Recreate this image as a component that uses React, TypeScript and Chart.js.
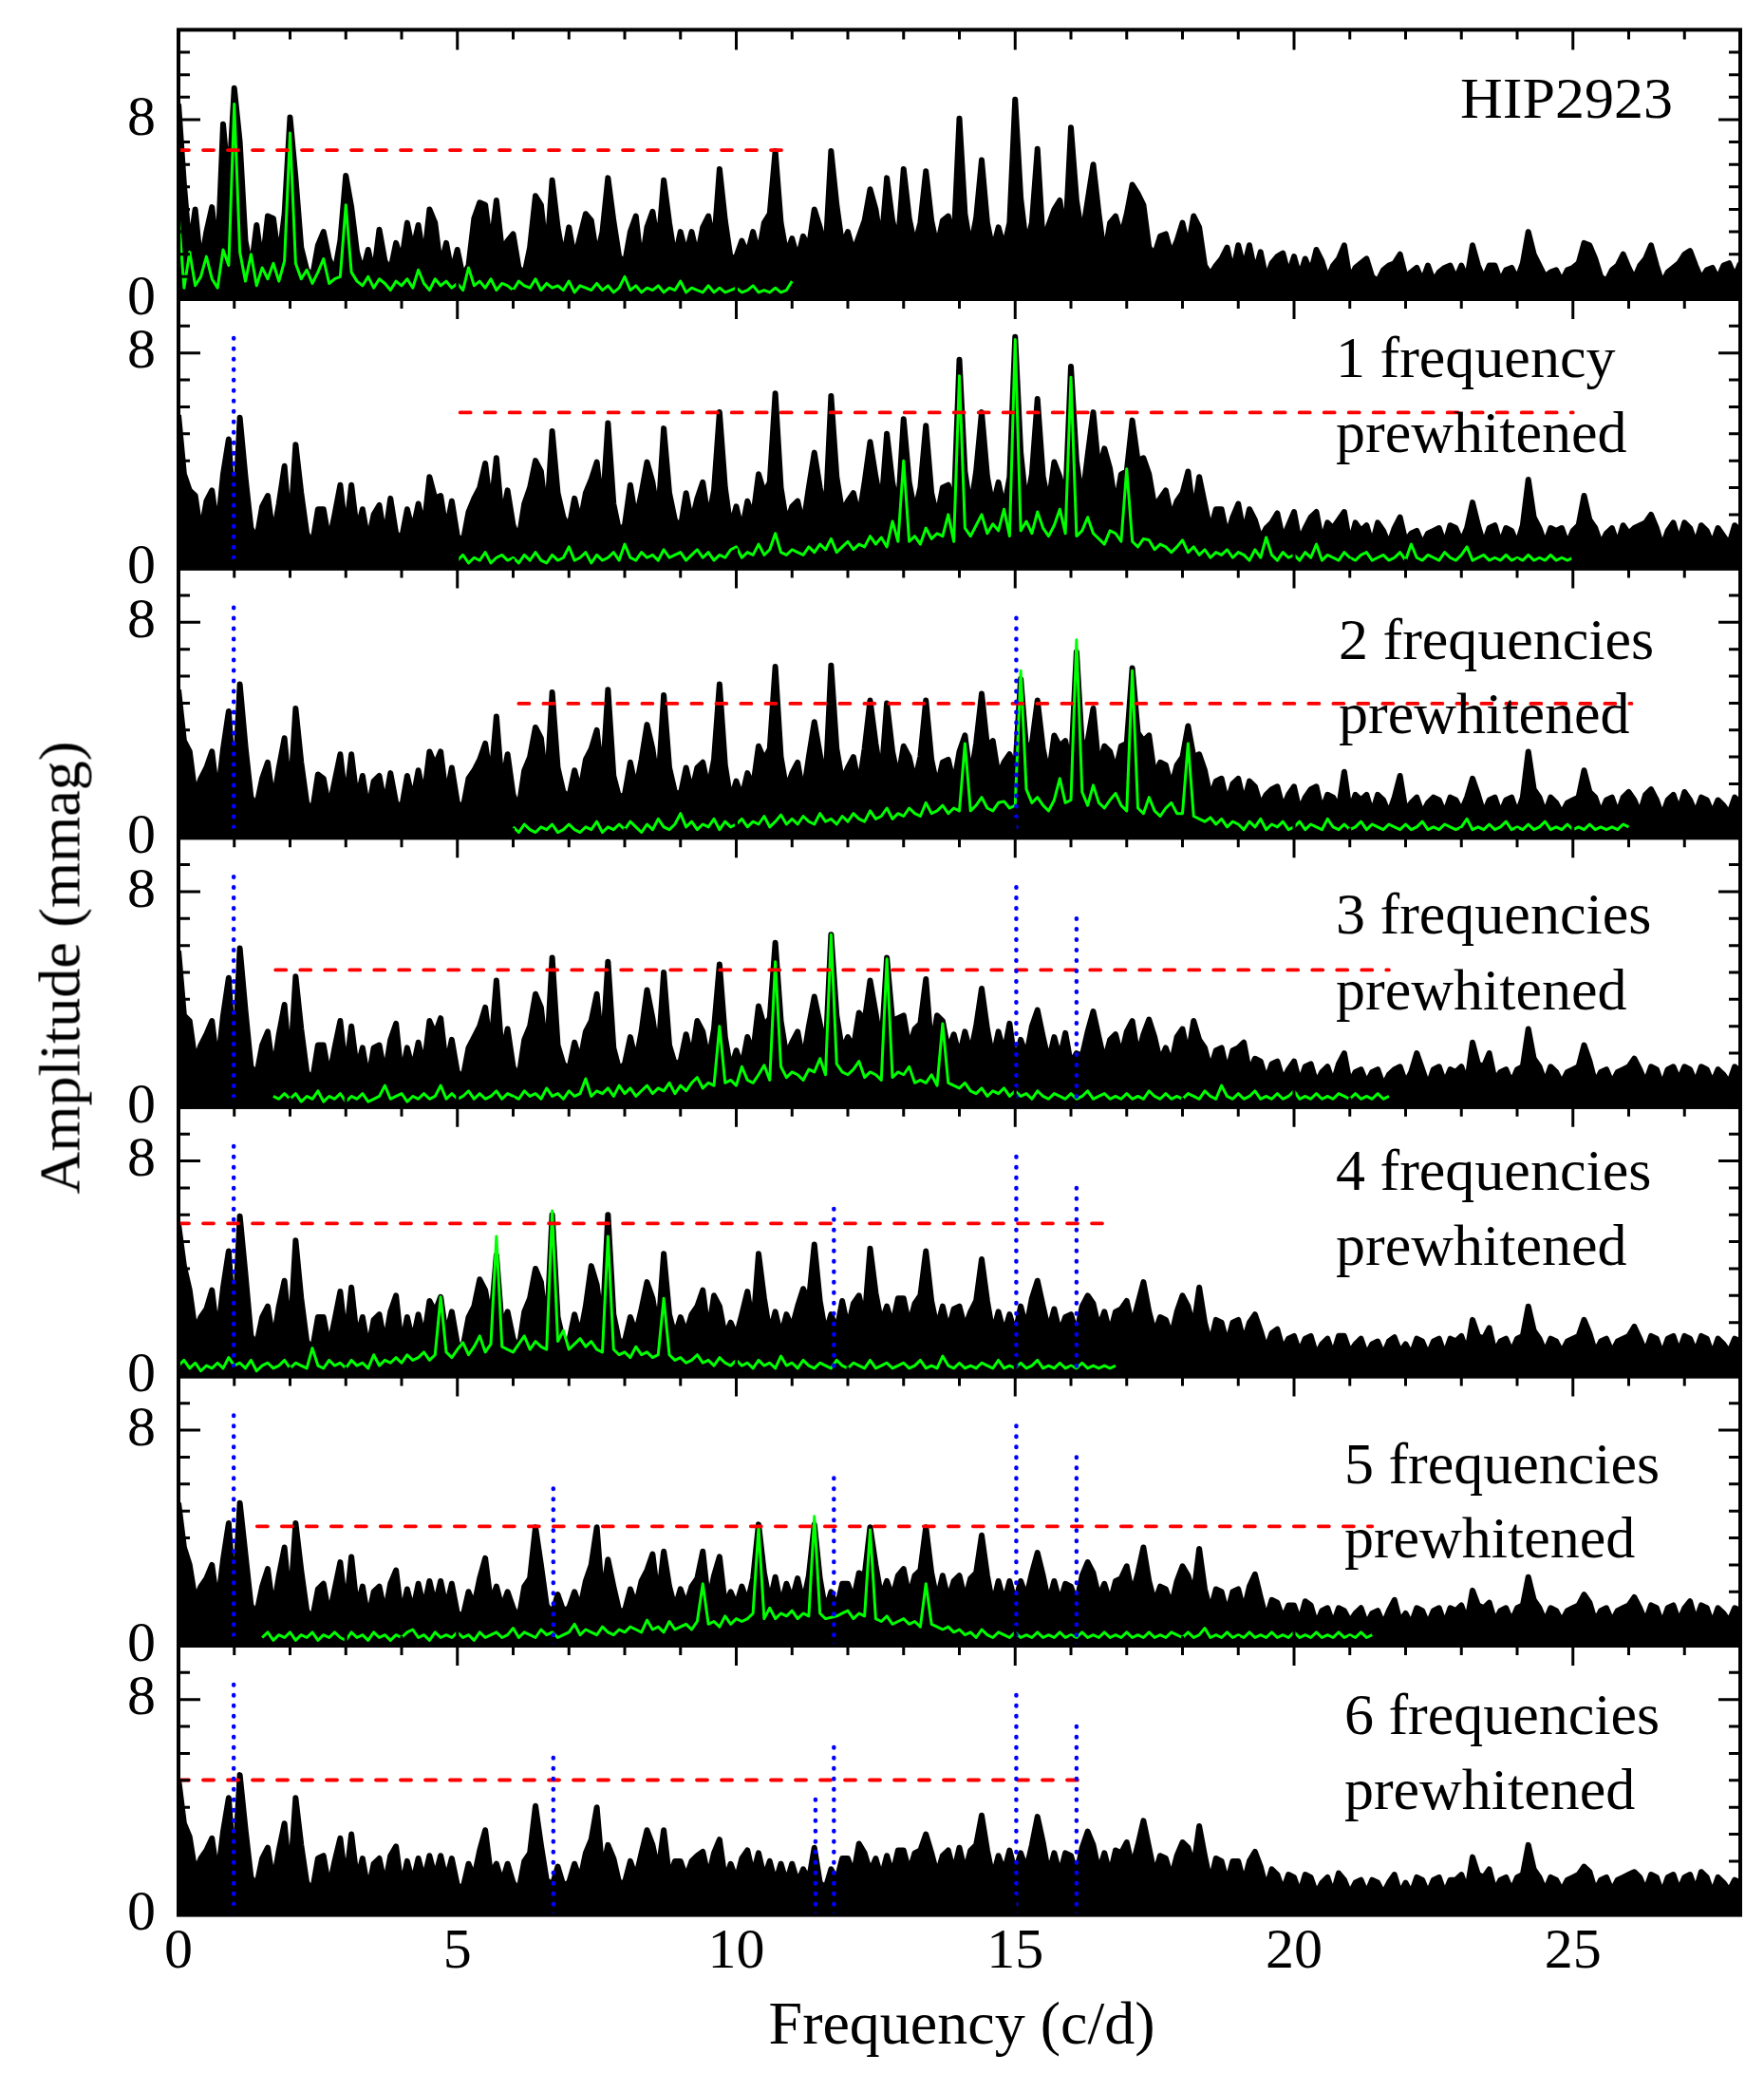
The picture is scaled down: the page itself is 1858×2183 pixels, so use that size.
import { useEffect, useRef } from 'react';
import { Chart, registerables } from 'chart.js';

Chart.register(...registerables);

// ---- data -------------------------------------------------------------

const FREQ_STEP = 0.1; // sampling of the amplitude spectra (c/d)
const FREQ_MAX = 28;
const FREQ_TICK_LABELS = [0, 5, 10, 15, 20, 25];
const AMP_TICK_LABELS = [0, 8];
const AMP_MAX = [12, 10, 10, 10, 10, 10, 10];

const PANEL_TEXT = [
  ['HIP2923'],
  ['1 frequency', 'prewhitened'],
  ['2 frequencies', 'prewhitened'],
  ['3 frequencies', 'prewhitened'],
  ['4 frequencies', 'prewhitened'],
  ['5 frequencies', 'prewhitened'],
  ['6 frequencies', 'prewhitened'],
];

// frequencies removed so far (blue dotted), in prewhitening order
const PREWHITENED_FREQ = [0.99, 15.02, 16.1, 11.75, 6.72, 11.42];
const PREWHITENED_AMP = [8.58, 8.23, 7.11, 6.34, 6.01, 4.54];

// significance level (red dashed)
const LEVEL_FROM = [0, 5.05, 6.1, 1.74, 0, 1.41, 0];
const LEVEL_TO = [11.05, 25.0, 26.05, 21.7, 16.7, 21.4, 16.26];
const LEVEL_AMP = [6.64, 5.79, 4.98, 5.09, 5.68, 4.43, 5.01];

// amplitude spectra (black), 0..28 c/d, one row per c/d
const SPEC_0 = [
  8.7, 5.1, 2.2, 4.0, 1.5, 3.0, 4.1, 1.8, 7.8, 5.0,
  9.4, 7.0, 2.6, 1.3, 3.3, 1.5, 3.7, 3.6, 1.7, 3.8,
  8.1, 5.4, 2.3, 1.3, 1.0, 2.4, 3.0, 1.8, 1.2, 2.6,
  5.5, 4.1, 2.1, 1.2, 2.2, 1.1, 3.1, 1.7, 1.3, 2.5,
  1.7, 3.4, 2.2, 3.3, 1.7, 4.0, 3.4, 1.4, 2.5, 1.2,
  2.2, 1.0, 1.5, 3.6, 4.3, 4.2, 2.3, 4.4, 2.2, 2.6,
  2.9, 1.4, 1.1, 2.3, 4.6, 4.2, 1.9, 5.3, 3.2, 1.8,
  3.2, 1.8, 2.8, 3.8, 3.5, 1.9, 3.0, 5.4, 3.5, 1.9,
  1.6, 3.0, 3.7, 1.5, 3.2, 3.9, 2.3, 5.3, 3.4, 1.8,
  3.0, 2.0, 3.0, 1.9, 3.2, 3.7, 2.4, 5.8, 3.5, 1.8,
  1.9, 2.6, 2.0, 3.0, 2.0, 3.4, 3.8, 6.6, 3.4, 2.0,
  2.7, 1.8, 2.8, 2.3, 4.0, 3.2, 2.1, 6.6, 4.2, 2.4,
  3.0, 2.1, 2.8, 3.5, 4.9, 4.0, 2.4, 5.4, 3.5, 2.5,
  5.8, 3.6, 2.4, 3.4, 5.7, 3.5, 2.3, 3.5, 3.7, 2.6,
  8.05, 3.8, 2.3, 3.6, 6.2, 3.4, 2.2, 3.2, 2.3, 3.4,
  8.9, 4.5, 2.4, 3.4, 6.7, 2.5, 3.3, 4.0, 4.4, 2.7,
  7.65, 4.4, 2.8, 4.4, 6.0, 3.8, 1.9, 3.4, 3.7, 2.8,
  3.8, 5.1, 4.7, 4.2, 2.3, 2.0, 2.8, 2.9, 2.0, 2.6,
  3.4, 2.3, 3.7, 3.2, 1.5, 1.1, 1.5, 1.8, 2.3, 1.2,
  2.4, 1.4, 2.4, 1.2, 2.1, 0.9, 1.6, 1.9, 2.05, 1.1,
  1.9, 1.0, 1.8, 1.2, 2.2, 1.7, 0.9, 1.5, 1.8, 2.4,
  0.9, 1.4, 1.6, 1.8, 1.0, 0.8, 1.3, 1.5, 1.6, 2.0,
  1.0, 1.2, 1.4, 0.8, 1.5, 0.8, 1.2, 1.4, 1.5, 0.9,
  1.5, 0.9, 2.4, 1.5, 0.9, 1.5, 1.5, 0.8, 1.3, 1.4,
  0.9, 1.6, 3.0, 2.0, 1.5, 1.0, 1.2, 1.3, 0.8, 1.3,
  1.4, 1.6, 2.5, 2.4, 1.8, 1.0, 0.8, 1.3, 1.5, 2.0,
  1.4, 0.9, 1.5, 1.8, 2.4, 1.5, 0.7, 1.2, 1.4, 1.6,
  2.0, 2.15, 1.5, 0.9, 1.3, 1.4, 0.9, 1.5, 1.6, 1.0,
  1.6,
];

const SPEC_1 = [
  5.7, 3.5, 2.9, 2.7, 1.3, 2.5, 2.9, 1.4, 3.5, 4.8,
  1.5, 5.6, 3.4, 1.5, 1.1, 2.3, 2.7, 1.2, 2.4, 3.8,
  1.3, 4.6, 2.8, 1.3, 0.9, 2.2, 2.2, 1.0, 2.0, 3.1,
  1.3, 3.1, 1.4, 2.2, 1.0, 2.0, 2.35, 1.1, 2.6, 1.3,
  1.1, 2.2, 1.4, 2.4, 1.5, 3.4, 2.6, 2.7, 1.4, 2.5,
  1.2, 1.0, 2.1, 2.6, 3.0, 3.9, 2.2, 4.1, 1.8, 2.9,
  1.6, 1.1, 2.4, 3.0, 4.0, 3.6, 1.8, 5.1, 2.8, 1.9,
  1.5, 2.6, 1.7, 2.8, 3.3, 3.95, 2.1, 5.4, 2.4, 1.4,
  1.6, 3.1, 1.8, 2.8, 3.95, 3.2, 1.9, 5.2, 2.8, 1.8,
  1.5, 2.8, 1.7, 2.6, 3.2, 1.8, 2.9, 5.8, 3.0, 1.5,
  2.3, 1.4, 2.5, 1.9, 3.5, 2.8, 3.2, 6.5, 3.0, 1.7,
  2.3, 2.5, 1.6, 3.0, 4.3, 3.0, 2.0, 6.4, 3.4, 2.1,
  2.5, 2.8, 1.9, 3.2, 4.7, 3.4, 2.3, 5.0, 3.2, 2.2,
  5.55, 3.2, 2.1, 3.0, 5.3, 2.8, 1.9, 3.0, 3.1, 2.2,
  7.75, 3.6, 2.2, 3.6, 5.8, 3.4, 2.3, 3.2, 2.2, 3.4,
  8.6, 4.3, 2.3, 3.5, 6.3, 3.4, 2.4, 3.95, 3.4, 2.5,
  7.5, 4.0, 2.5, 4.2, 5.8, 3.6, 4.45, 3.7, 2.3, 3.5,
  3.6, 5.5, 4.0, 4.1, 3.5, 2.3, 2.6, 2.9, 1.9, 2.5,
  2.8, 3.6, 2.0, 3.4, 2.4, 1.4, 2.2, 2.2, 1.2, 1.9,
  2.4, 1.3, 2.2, 1.8, 1.1, 1.5, 1.7, 2.05, 1.1, 1.6,
  2.1, 1.0, 1.5, 1.9, 2.1, 1.0, 1.7, 1.5, 1.8, 2.1,
  0.9, 1.7, 1.4, 1.6, 0.9, 1.7, 1.4, 0.9, 1.5, 1.9,
  1.0, 1.3, 1.4, 0.9, 1.3, 1.4, 1.5, 0.9, 1.6, 1.5,
  1.0, 1.5, 2.45, 1.6, 0.9, 1.5, 1.6, 0.9, 1.5, 1.4,
  0.9, 1.6, 3.3, 1.9, 1.5, 0.9, 1.5, 1.4, 1.5, 0.9,
  1.4, 1.6, 2.7, 1.8, 1.5, 0.9, 1.3, 1.5, 0.9, 1.6,
  1.3, 1.5, 1.6, 1.7, 2.0, 1.5, 0.8, 1.4, 1.7, 1.0,
  1.7, 1.5, 0.9, 1.6, 1.4, 0.9, 1.5, 1.2, 0.9, 1.6,
  1.4,
];

const SPEC_2 = [
  5.5, 3.6, 3.2, 1.6, 2.2, 2.6, 3.2, 1.5, 3.3, 4.7,
  1.6, 5.7, 3.4, 1.5, 1.2, 2.2, 2.8, 1.3, 2.6, 3.7,
  1.4, 4.8, 2.8, 1.3, 1.0, 2.35, 2.2, 1.1, 2.1, 3.1,
  1.3, 3.1, 1.4, 2.3, 1.0, 2.1, 2.3, 1.2, 2.4, 1.3,
  1.1, 2.3, 1.4, 2.5, 1.5, 3.2, 2.7, 3.2, 1.5, 2.6,
  1.3, 1.1, 2.2, 2.5, 2.9, 3.5, 2.1, 4.5, 1.9, 3.1,
  1.6, 1.1, 2.5, 3.0, 4.1, 3.7, 1.8, 5.4, 2.6, 1.7,
  1.5, 2.5, 1.7, 2.9, 3.3, 4.0, 2.1, 5.5, 2.3, 1.5,
  1.6, 2.8, 1.8, 2.9, 4.2, 3.3, 1.9, 5.3, 2.6, 1.7,
  1.6, 2.6, 1.7, 2.6, 2.8, 1.8, 2.9, 5.7, 2.7, 1.4,
  2.1, 1.5, 2.4, 1.9, 3.4, 2.9, 3.3, 6.35, 3.0, 1.8,
  2.4, 2.8, 1.6, 3.0, 4.3, 3.1, 2.0, 6.4, 3.3, 2.1,
  2.6, 3.0, 1.9, 3.3, 5.1, 3.5, 2.2, 5.0, 3.2, 2.2,
  3.4, 3.0, 2.1, 3.0, 5.1, 2.9, 1.9, 2.8, 2.9, 2.0,
  3.2, 3.8, 2.2, 3.5, 5.35, 3.4, 3.6, 2.3, 2.8, 3.1,
  2.5, 5.9, 3.3, 3.5, 5.1, 3.3, 2.3, 3.8, 3.4, 3.6,
  2.6, 6.9, 3.4, 3.6, 4.8, 2.6, 3.4, 3.2, 2.5, 3.4,
  3.5, 6.3, 3.9, 3.6, 3.8, 2.3, 2.8, 2.7, 1.9, 2.7,
  3.0, 4.15, 3.0, 3.1, 2.5, 1.5, 2.1, 2.2, 1.3, 2.0,
  2.2, 1.3, 2.1, 1.9, 1.2, 1.6, 1.8, 1.9, 1.1, 1.6,
  1.9, 1.0, 1.5, 1.8, 1.9, 1.0, 1.6, 1.5, 1.1, 2.45,
  1.0, 1.6, 1.4, 1.6, 0.9, 1.6, 1.4, 0.9, 1.5, 2.3,
  1.0, 1.3, 1.5, 0.9, 1.3, 1.5, 1.4, 0.9, 1.5, 1.4,
  1.0, 1.5, 2.2, 1.6, 0.9, 1.4, 1.5, 0.9, 1.4, 1.5,
  0.9, 1.5, 3.2, 1.8, 1.5, 0.9, 1.5, 1.3, 0.9, 1.3,
  1.4, 1.5, 2.5, 1.7, 1.5, 0.9, 1.4, 1.5, 0.9, 1.5,
  1.7, 1.4, 0.9, 1.6, 1.8, 1.4, 0.8, 1.4, 1.6, 1.0,
  1.7, 1.4, 0.9, 1.5, 1.4, 0.9, 1.4, 1.2, 0.9, 1.5,
  1.3,
];

const SPEC_3 = [
  5.8, 3.4, 3.2, 1.7, 2.3, 2.7, 3.2, 1.5, 3.4, 4.8,
  1.6, 5.9, 3.6, 1.5, 1.2, 2.3, 2.8, 1.3, 2.7, 3.8,
  1.4, 4.85, 2.9, 1.3, 1.0, 2.3, 2.3, 1.1, 2.2, 3.2,
  1.3, 3.0, 1.4, 2.2, 1.0, 2.2, 2.3, 1.2, 2.5, 3.1,
  1.1, 2.2, 1.4, 2.4, 1.5, 3.2, 2.7, 3.3, 1.5, 2.5,
  1.3, 1.1, 2.2, 2.6, 3.0, 3.7, 2.1, 4.7, 1.9, 2.9,
  1.5, 1.1, 2.5, 3.0, 4.2, 3.7, 1.8, 5.55, 2.3, 1.6,
  1.4, 2.4, 1.7, 2.8, 3.2, 4.2, 2.0, 5.4, 2.2, 1.4,
  1.6, 2.6, 1.7, 2.8, 4.35, 3.3, 1.9, 5.0, 2.3, 1.6,
  1.7, 2.7, 1.8, 3.2, 2.8, 1.7, 2.9, 5.3, 2.6, 1.4,
  2.1, 1.5, 2.6, 2.0, 3.75, 3.0, 3.3, 6.1, 3.2, 1.9,
  2.4, 2.8, 1.7, 3.0, 4.1, 3.1, 2.0, 6.4, 3.4, 2.1,
  2.6, 2.2, 3.5, 3.2, 4.7, 3.5, 2.2, 5.55, 3.2, 3.3,
  3.4, 2.2, 2.9, 3.1, 4.75, 2.1, 3.4, 3.2, 2.1, 2.7,
  1.9, 2.8, 2.0, 3.0, 4.4, 2.9, 1.8, 2.8, 2.0, 3.1,
  1.6, 2.5, 1.9, 3.0, 3.6, 2.6, 1.7, 2.6, 1.8, 2.75,
  1.6, 2.0, 1.9, 2.8, 3.55, 2.6, 1.7, 2.5, 2.7, 1.9,
  2.8, 3.2, 1.9, 2.7, 3.25, 2.6, 1.7, 2.2, 1.6, 2.6,
  2.9, 1.9, 3.2, 2.5, 2.2, 1.4, 2.1, 2.2, 1.3, 2.1,
  2.2, 2.4, 1.3, 1.8, 1.7, 1.0, 1.6, 1.7, 1.0, 1.4,
  1.7, 0.9, 1.5, 1.6, 0.9, 1.3, 1.5, 0.9, 1.6, 2.0,
  0.9, 1.3, 1.4, 0.9, 1.3, 1.4, 0.8, 1.2, 1.4, 1.5,
  0.9, 1.3, 2.0, 1.4, 0.8, 1.4, 1.5, 0.9, 1.4, 1.3,
  1.5, 0.9, 2.4, 1.6, 1.5, 2.0, 1.0, 1.3, 1.4, 0.9,
  1.4, 1.5, 2.9, 1.8, 1.5, 0.9, 1.5, 1.3, 0.9, 1.3,
  1.4, 1.5, 2.3, 1.7, 0.9, 1.3, 1.4, 0.9, 1.3, 1.4,
  1.5, 1.8, 1.4, 0.9, 1.5, 1.4, 0.8, 1.4, 1.5, 1.0,
  1.5, 1.4, 0.9, 1.5, 1.4, 0.9, 1.4, 1.2, 0.9, 1.5,
  1.3,
];

const SPEC_4 = [
  5.65, 4.1, 3.2, 1.7, 2.2, 2.5, 3.2, 1.5, 3.3, 4.65,
  1.6, 5.95, 3.8, 1.5, 1.2, 2.2, 2.6, 1.3, 2.6, 3.55,
  1.4, 5.05, 2.9, 1.3, 1.0, 2.2, 2.2, 1.1, 2.1, 3.15,
  1.3, 3.3, 1.4, 2.2, 1.0, 2.1, 2.3, 1.2, 2.4, 3.0,
  1.1, 2.2, 1.3, 2.3, 1.4, 2.8, 2.4, 2.95, 1.5, 2.4,
  1.2, 1.1, 2.2, 2.6, 3.6, 3.2, 2.0, 4.5, 1.8, 2.4,
  1.4, 1.0, 2.4, 2.9, 4.0, 3.5, 1.6, 6.0, 2.2, 1.3,
  1.3, 2.3, 1.5, 2.6, 4.1, 3.4, 1.8, 6.0, 2.3, 1.3,
  1.3, 2.2, 1.6, 2.5, 3.5, 2.9, 1.7, 4.55, 2.3, 1.5,
  2.2, 1.6, 2.3, 2.6, 3.2, 1.6, 3.0, 2.6, 1.5, 2.0,
  1.5, 2.3, 3.15, 1.8, 4.55, 2.9, 1.6, 2.4, 1.5, 2.3,
  1.8, 2.6, 3.25, 2.8, 4.9, 2.8, 1.6, 2.3, 1.7, 2.8,
  1.8, 2.7, 3.0, 2.1, 4.75, 3.1, 2.0, 2.6, 1.9, 2.9,
  2.9, 1.9, 2.7, 3.0, 4.65, 2.8, 1.8, 2.6, 1.7, 2.5,
  2.6, 1.8, 2.4, 2.8, 4.35, 2.8, 1.6, 2.4, 1.6, 2.3,
  1.6, 2.6, 1.8, 2.9, 3.55, 2.6, 1.7, 2.5, 1.6, 2.2,
  2.3, 1.6, 2.6, 3.0, 2.7, 1.8, 2.4, 1.6, 2.4, 2.5,
  2.8, 1.9, 2.7, 3.5, 2.4, 1.6, 2.2, 2.1, 1.5, 2.4,
  3.0, 2.6, 1.8, 3.3, 2.0, 1.2, 2.1, 2.0, 1.2, 2.0,
  2.1, 1.3, 2.0, 2.3, 1.7, 1.0, 1.6, 1.75, 1.0, 1.4,
  1.5, 0.9, 1.4, 1.5, 0.8, 1.2, 1.4, 0.8, 1.5, 1.5,
  0.9, 1.2, 1.4, 0.8, 1.2, 1.3, 0.8, 1.3, 1.45, 0.9,
  1.2, 0.8, 1.4, 1.3, 0.8, 1.3, 1.4, 0.8, 1.4, 1.3,
  1.5, 0.9, 2.1, 1.5, 1.4, 1.8, 0.9, 1.3, 1.4, 0.9,
  1.4, 1.5, 2.6, 1.7, 1.4, 0.9, 1.4, 1.3, 0.9, 1.3,
  1.4, 1.5, 2.1, 1.6, 0.9, 1.3, 1.4, 0.9, 1.3, 1.4,
  1.5, 1.85, 1.4, 0.9, 1.5, 1.4, 0.8, 1.4, 1.5, 0.9,
  1.5, 1.4, 0.9, 1.5, 1.4, 0.8, 1.4, 1.2, 0.9, 1.4,
  1.3,
];

const SPEC_5 = [
  5.3, 3.65, 3.0, 1.7, 2.2, 2.5, 3.0, 1.5, 3.2, 4.55,
  1.6, 5.3, 3.4, 1.5, 1.2, 2.2, 2.85, 1.3, 2.6, 3.65,
  1.4, 4.55, 2.8, 1.3, 1.0, 2.1, 2.3, 1.1, 2.1, 3.1,
  1.3, 3.3, 1.4, 2.2, 1.0, 2.0, 2.2, 1.2, 2.3, 2.8,
  1.1, 2.1, 1.3, 2.3, 1.4, 2.4, 1.5, 2.4, 1.4, 2.3,
  1.2, 1.1, 2.0, 1.5, 2.5, 3.25, 1.6, 2.2, 1.4, 2.0,
  1.4, 1.0, 2.2, 2.5, 4.4, 3.0, 1.5, 1.2, 1.9, 1.3,
  1.4, 2.0, 1.4, 2.4, 3.0, 4.4, 1.7, 3.2, 2.2, 1.3,
  1.3, 2.1, 1.5, 2.4, 2.8, 3.4, 1.7, 3.5, 2.2, 1.4,
  2.1, 1.5, 2.2, 2.5, 3.5, 1.6, 2.6, 3.3, 1.5, 2.0,
  1.5, 2.2, 1.6, 2.5, 4.5, 2.7, 1.6, 2.55, 1.5, 2.3,
  1.7, 2.5, 1.6, 2.6, 4.5, 2.5, 1.3, 2.0, 1.4, 2.3,
  2.3, 1.7, 2.7, 2.6, 4.4, 3.0, 1.8, 2.4, 1.8, 2.6,
  2.85, 1.8, 2.6, 2.8, 4.4, 2.7, 1.7, 2.6, 1.7, 2.4,
  2.6, 1.7, 2.5, 2.7, 4.1, 2.6, 1.5, 2.4, 1.6, 2.4,
  1.6, 2.4, 1.8, 2.7, 3.45, 2.6, 1.6, 2.4, 1.6, 2.3,
  2.2, 1.6, 2.6, 3.1, 2.7, 1.8, 2.3, 1.6, 2.4, 2.5,
  2.95, 1.9, 2.7, 3.65, 2.4, 1.6, 2.2, 2.1, 1.5, 2.4,
  2.95, 2.6, 1.9, 3.6, 2.1, 1.3, 2.1, 2.0, 1.2, 2.0,
  2.1, 1.3, 2.2, 2.65, 1.8, 1.0, 1.7, 1.6, 1.0, 1.5,
  1.5, 0.9, 1.65, 1.5, 0.8, 1.3, 1.4, 0.8, 1.4, 1.3,
  0.9, 1.2, 1.4, 0.8, 1.2, 1.3, 0.8, 1.3, 1.7, 0.9,
  1.2, 0.8, 1.4, 1.3, 0.8, 1.3, 1.4, 0.8, 1.4, 1.3,
  1.5, 0.9, 2.05, 1.5, 1.4, 1.6, 0.9, 1.3, 1.4, 0.9,
  1.4, 1.5, 2.55, 1.7, 1.4, 0.9, 1.4, 1.3, 0.9, 1.3,
  1.4, 1.5, 1.9, 1.6, 0.9, 1.3, 1.4, 0.9, 1.3, 1.4,
  1.5, 1.8, 1.4, 0.9, 1.5, 1.4, 0.8, 1.4, 1.5, 0.9,
  1.4, 1.65, 0.9, 1.5, 1.4, 0.8, 1.4, 1.2, 0.9, 1.4,
  1.3,
];

const SPEC_6 = [
  5.05, 3.4, 2.9, 1.6, 2.1, 2.4, 2.85, 1.4, 3.1, 4.35,
  1.5, 5.2, 3.2, 1.4, 1.1, 2.1, 2.5, 1.2, 2.4, 3.4,
  1.3, 4.35, 2.6, 1.2, 0.9, 2.1, 2.2, 1.0, 2.0, 2.85,
  1.2, 3.0, 1.3, 2.1, 0.9, 1.9, 2.1, 1.1, 2.2, 2.55,
  1.0, 2.0, 1.2, 2.1, 1.3, 2.2, 1.4, 2.2, 1.3, 2.1,
  1.1, 1.0, 1.9, 1.4, 2.4, 3.15, 1.5, 1.9, 1.2, 1.9,
  1.2, 0.9, 2.0, 2.3, 4.05, 2.6, 1.3, 1.1, 1.8, 1.1,
  1.2, 1.9, 1.3, 2.3, 2.8, 4.0, 1.6, 2.6, 2.1, 1.2,
  1.2, 2.0, 1.4, 2.3, 3.15, 2.6, 1.6, 3.15, 1.4, 2.0,
  2.0, 1.4, 2.0, 2.2, 2.35, 1.4, 2.3, 2.8, 1.3, 1.9,
  1.3, 2.1, 2.4, 1.5, 2.3, 1.4, 2.0, 1.2, 1.9, 1.2,
  1.9, 1.2, 1.7, 1.3, 2.5, 1.2, 1.0, 1.7, 1.3, 2.1,
  2.1, 1.5, 2.65, 2.3, 1.6, 2.1, 1.4, 2.2, 1.5, 2.4,
  2.4, 1.6, 2.3, 2.4, 3.0, 2.3, 1.5, 2.2, 2.4, 1.6,
  2.5, 1.6, 2.4, 2.6, 3.7, 2.4, 1.4, 2.2, 1.6, 2.4,
  1.6, 2.3, 1.7, 2.6, 3.65, 2.7, 1.5, 2.3, 1.5, 2.3,
  2.2, 1.5, 2.5, 3.1, 2.6, 1.6, 2.3, 1.5, 2.4, 2.3,
  2.7, 1.8, 2.6, 3.5, 2.5, 1.5, 2.2, 2.1, 1.4, 2.2,
  2.7, 2.5, 1.8, 3.3, 2.2, 1.2, 2.1, 2.0, 1.2, 2.0,
  2.0, 1.2, 2.0, 2.35, 1.8, 1.0, 1.7, 1.5, 0.9, 1.5,
  1.4, 0.8, 1.5, 1.4, 0.8, 1.2, 1.4, 0.8, 1.55, 1.3,
  0.8, 1.2, 1.3, 0.8, 1.3, 1.2, 0.8, 1.2, 1.5, 0.8,
  1.2, 0.8, 1.4, 1.3, 0.8, 1.3, 1.4, 0.8, 1.3, 1.3,
  1.5, 0.9, 2.15, 1.5, 1.4, 1.7, 0.9, 1.3, 1.4, 0.9,
  1.4, 1.5, 2.6, 1.7, 1.4, 0.9, 1.4, 1.3, 0.9, 1.3,
  1.4, 1.5, 1.8, 1.6, 0.9, 1.3, 1.4, 0.9, 1.3, 1.4,
  1.5, 1.6, 1.4, 0.9, 1.5, 1.4, 0.8, 1.4, 1.5, 0.9,
  1.4, 1.5, 0.9, 1.6, 1.4, 0.8, 1.4, 1.2, 0.9, 1.3,
  1.2,
];

const SPECTRA = [SPEC_0, SPEC_1, SPEC_2, SPEC_3, SPEC_4, SPEC_5, SPEC_6];

// spectral windows (green), each starts at WINDOW_FROM[i]
const WINDOW_FROM = [0, 5.0, 6.0, 1.7, 0, 1.5];

const WIN_0 = [
  3.8, 0.5, 2.1, 0.6, 1.0, 1.9, 0.9, 0.5, 2.2, 1.5,
  8.7, 2.1, 0.8, 2.0, 0.6, 1.4, 0.9, 1.6, 0.8, 1.7,
  7.4, 1.6, 0.9, 1.3, 0.7, 1.2, 1.8, 0.7, 0.9, 1.0,
  4.2, 1.2, 0.8, 0.6, 1.0, 0.5, 0.9, 0.7, 0.4, 0.8,
  0.6, 0.9, 0.5, 1.3, 0.7, 0.4, 0.9, 0.6, 0.8, 0.5,
  0.7, 0.4, 1.4, 0.6, 0.8, 0.5, 0.9, 0.4, 0.7, 0.6,
  0.4, 0.8, 0.6, 0.5, 0.9, 0.4, 0.7, 0.5, 0.6, 0.4,
  0.8, 0.3, 0.6, 0.5, 0.4, 0.7, 0.4, 0.6, 0.3, 0.5,
  1.0, 0.4, 0.6, 0.3, 0.5, 0.4, 0.6, 0.3, 0.5, 0.4,
  0.8, 0.3, 0.5, 0.4, 0.3, 0.6, 0.3, 0.5, 0.3, 0.4,
  0.5, 0.3, 0.4, 0.6, 0.3, 0.4, 0.3, 0.5, 0.3, 0.4,
  0.8,
];

const WIN_1 = [
  0.3, 0.5, 0.2, 0.4, 0.3, 0.6, 0.2, 0.4, 0.5, 0.3,
  0.4, 0.2, 0.5, 0.3, 0.6, 0.3, 0.2, 0.5, 0.3, 0.4,
  0.8, 0.3, 0.4, 0.6, 0.2, 0.5, 0.3, 0.4, 0.6, 0.3,
  0.9, 0.4, 0.3, 0.6, 0.4, 0.5, 0.3, 0.7, 0.4, 0.5,
  0.6, 0.3, 0.5, 0.7, 0.4, 0.6, 0.3, 0.5, 0.4, 0.7,
  0.8, 0.4, 0.6, 0.5, 0.9, 0.5, 0.7, 1.3, 0.6, 0.5,
  0.7, 0.6, 0.5, 0.8, 0.6, 0.9, 0.7, 1.1, 0.6, 0.8,
  1.0, 0.7, 0.9, 0.8, 1.2, 0.9, 1.15, 0.8, 1.75, 1.0,
  4.0, 1.0, 1.2, 0.9, 1.5, 1.1, 1.3, 1.2, 2.0, 1.0,
  7.15, 1.5, 1.2, 1.6, 2.0, 1.3, 1.65, 1.4, 2.2, 1.2,
  8.5, 1.4, 1.75, 1.3, 2.1, 1.5, 1.2, 1.6, 2.2, 1.3,
  7.1, 1.2, 1.4, 1.9, 1.3, 1.1, 0.9, 1.4, 1.3, 1.0,
  3.7, 1.0, 0.8, 1.1, 1.05, 0.7, 0.9, 0.8, 0.6, 0.8,
  1.05, 0.6, 0.8, 0.5, 0.7, 0.4, 0.6, 0.5, 0.7, 0.4,
  0.6, 0.5, 0.3, 0.7, 0.4, 1.15, 0.5, 0.3, 0.6, 0.4,
  0.5, 0.3, 0.6, 0.4, 0.9, 0.3, 0.5, 0.4, 0.3, 0.6,
  0.4, 0.3, 0.5, 0.6, 0.3, 0.4, 0.5, 0.3, 0.4, 0.6,
  0.3, 0.9, 0.4, 0.3, 0.5, 0.4, 0.3, 0.6, 0.4, 0.3,
  0.5, 0.8, 0.3, 0.4, 0.5, 0.3, 0.4, 0.3, 0.5, 0.3,
  0.4, 0.3, 0.5, 0.3, 0.4, 0.3, 0.5, 0.3, 0.4, 0.3,
  0.4,
];

const WIN_2 = [
  0.4, 0.2, 0.5, 0.3, 0.2, 0.4, 0.3, 0.5, 0.2, 0.3,
  0.5, 0.3, 0.2, 0.4, 0.3, 0.6, 0.2, 0.4, 0.3, 0.5,
  0.3, 0.6, 0.4, 0.2, 0.5, 0.3, 0.7, 0.4, 0.3, 0.5,
  0.9, 0.4, 0.6, 0.3, 0.5, 0.4, 0.7, 0.3, 0.6, 0.4,
  0.5, 0.7, 0.4, 0.6, 0.5, 0.8, 0.4, 0.6, 0.85, 0.5,
  0.7, 0.5, 0.8, 0.6, 0.5, 0.9, 0.6, 0.7, 0.5, 0.8,
  0.6, 0.9, 0.7, 0.6, 1.0, 0.7, 0.8, 1.1, 0.7, 0.9,
  0.8, 1.1, 0.9, 0.8, 1.3, 0.9, 1.0, 1.2, 0.9, 1.1,
  1.0, 3.5, 1.0, 1.2, 1.5, 1.1, 1.0, 1.3, 1.35, 1.1,
  1.2, 6.2, 1.8, 1.3, 1.5, 1.2, 1.0, 1.4, 2.2, 1.3,
  1.4, 7.35, 1.7, 1.2, 1.95, 1.3, 1.1, 1.4, 1.65, 1.2,
  1.0, 6.2, 1.1, 0.9, 1.5, 1.0, 0.8, 1.1, 1.3, 0.9,
  0.9, 3.5, 0.8, 0.7, 0.6, 0.75, 0.5, 0.7, 0.4, 0.6,
  0.5, 0.3, 0.6, 0.4, 0.7, 0.3, 0.5, 0.4, 0.6, 0.3,
  0.4, 0.6, 0.3, 0.5, 0.4, 0.3, 0.7, 0.4, 0.3, 0.5,
  0.3, 0.4, 0.6, 0.3, 0.5, 0.4, 0.3, 0.5, 0.4, 0.3,
  0.5, 0.3, 0.4, 0.6, 0.3, 0.4, 0.3, 0.5, 0.4, 0.3,
  0.4, 0.7, 0.3, 0.4, 0.3, 0.5, 0.3, 0.4, 0.6, 0.3,
  0.4, 0.3, 0.5, 0.3, 0.4, 0.6, 0.3, 0.4, 0.3, 0.5,
  0.3, 0.4, 0.3, 0.5, 0.3, 0.4, 0.3, 0.4, 0.3, 0.5,
  0.4,
];

const WIN_3 = [
  0.4, 0.3, 0.5,
  0.3, 0.5, 0.2, 0.4, 0.3, 0.6, 0.2, 0.4, 0.3, 0.5,
  0.2, 0.4, 0.3, 0.5, 0.2, 0.3, 0.4, 0.8, 0.3, 0.4,
  0.5, 0.2, 0.4, 0.3, 0.5, 0.3, 0.4, 0.8, 0.3, 0.5,
  0.3, 0.4, 0.6, 0.3, 0.5, 0.3, 0.4, 0.6, 0.3, 0.5,
  0.4, 0.3, 0.6, 0.4, 0.5, 0.3, 0.7, 0.4, 0.5, 0.3,
  0.6, 0.4, 0.5, 1.05, 0.4, 0.6, 0.5, 0.7, 0.4, 0.8,
  0.5, 0.7, 0.4, 0.6, 0.8, 0.5, 0.7, 0.6, 0.9, 0.5,
  0.8, 0.6, 0.9, 1.1, 0.7, 0.9, 0.8, 3.0, 0.9, 1.0,
  0.8, 1.5, 1.0, 0.9, 1.2, 1.55, 1.0, 5.4, 1.5, 1.1,
  1.3, 1.2, 1.0, 1.4, 1.3, 1.8, 1.2, 6.4, 1.6, 1.3,
  1.2, 1.4, 1.7, 1.1, 1.3, 1.2, 1.0, 5.5, 1.1, 1.3,
  1.2, 1.5, 0.9, 1.0, 0.9, 1.2, 0.8, 3.1, 0.9, 0.8,
  0.7, 0.9, 0.6, 0.5, 0.7, 0.4, 0.6, 0.5, 0.7, 0.4,
  0.6, 0.4, 0.5, 0.3, 0.6, 0.4, 0.3, 0.5, 0.4, 0.3,
  0.5, 0.3, 0.4, 0.6, 0.3, 0.4, 0.5, 0.3, 0.4, 0.3,
  0.5, 0.3, 0.4, 0.3, 0.6, 0.4, 0.3, 0.5, 0.3, 0.4,
  0.3, 0.5, 0.4, 0.3, 0.6, 0.4, 0.3, 0.8, 0.4, 0.3,
  0.5, 0.3, 0.4, 0.6, 0.3, 0.4, 0.3, 0.5, 0.3, 0.4,
  0.6, 0.3, 0.4, 0.3, 0.5, 0.3, 0.4, 0.3, 0.5, 0.4,
  0.3, 0.5, 0.3, 0.4, 0.3, 0.5, 0.3, 0.4,
];

const WIN_4 = [
  0.4, 0.6, 0.3, 0.5, 0.2, 0.4, 0.3, 0.5, 0.3, 0.7,
  0.4, 0.5, 0.3, 0.6, 0.2, 0.4, 0.5, 0.3, 0.4, 0.6,
  0.3, 0.5, 0.4, 0.3, 1.05, 0.4, 0.3, 0.6, 0.4, 0.5,
  0.3, 0.6, 0.4, 0.5, 0.3, 0.8, 0.4, 0.6, 0.5, 0.7,
  0.5, 0.8, 0.6, 0.7, 0.9, 0.6, 0.8, 2.95, 0.9, 0.7,
  1.0, 1.25, 0.8, 1.1, 1.5, 0.9, 1.2, 5.2, 1.1, 1.0,
  0.9, 1.2, 1.5, 1.0, 1.3, 1.1, 1.0, 6.15, 1.3, 1.7,
  1.0, 1.2, 1.4, 1.1, 1.3, 1.0, 0.9, 5.2, 1.0, 0.8,
  0.9, 0.7, 1.1, 0.8, 0.9, 0.7, 0.8, 2.9, 0.8, 0.6,
  0.7, 0.5, 0.6, 0.8, 0.5, 0.6, 0.4, 0.7, 0.5, 0.4,
  0.6, 0.4, 0.5, 0.3, 0.6, 0.4, 0.5, 0.3, 0.75, 0.4,
  0.5, 0.3, 0.6, 0.4, 0.3, 0.5, 0.4, 0.3, 0.6, 0.4,
  0.3, 0.5, 0.4, 0.3, 0.6, 0.3, 0.4, 0.5, 0.3, 0.4,
  0.5, 0.3, 0.4, 0.6, 0.3, 0.4, 0.3, 0.75, 0.4, 0.3,
  0.5, 0.3, 0.4, 0.3, 0.5, 0.4, 0.3, 0.6, 0.3, 0.4,
  0.3, 0.5, 0.3, 0.4, 0.6, 0.3, 0.4, 0.3, 0.5, 0.3,
  0.4, 0.3, 0.5, 0.3, 0.4, 0.3, 0.4, 0.3, 0.4,
];

const WIN_5 = [
  0.3, 0.5, 0.2, 0.4, 0.3,
  0.5, 0.2, 0.4, 0.3, 0.5, 0.2, 0.4, 0.3, 0.5, 0.3,
  0.2, 0.5, 0.3, 0.4, 0.2, 0.5, 0.3, 0.4, 0.2, 0.4,
  0.3, 0.5, 0.6, 0.3, 0.4, 0.2, 0.5, 0.3, 0.4, 0.3,
  0.5, 0.3, 0.4, 0.2, 0.5, 0.3, 0.4, 0.5, 0.3, 0.4,
  0.65, 0.3, 0.5, 0.4, 0.3, 0.6, 0.4, 0.5, 0.3, 0.4,
  0.5, 0.8, 0.4, 0.6, 0.5, 0.4, 0.7, 0.5, 0.4, 0.6,
  0.5, 0.7, 0.6, 0.5, 0.95, 0.6, 0.7, 0.5, 0.9, 0.6,
  0.7, 0.8, 0.6, 0.9, 2.3, 0.8, 0.9, 0.7, 1.1, 0.8,
  1.0, 0.9, 1.0, 1.2, 4.4, 1.0, 1.4, 1.0, 1.2, 1.1,
  1.3, 1.0, 1.2, 1.1, 4.8, 1.2, 1.0, 1.05, 1.1, 1.2,
  1.3, 1.0, 1.2, 1.1, 4.3, 1.0, 0.9, 1.1, 0.8, 0.9,
  1.0, 0.8, 0.9, 0.7, 2.3, 0.8, 0.7, 0.6, 0.7, 0.5,
  0.6, 0.4, 0.5, 0.3, 0.6, 0.4, 0.3, 0.5, 0.4, 0.3,
  0.5, 0.3, 0.4, 0.3, 0.5, 0.3, 0.4, 0.3, 0.5, 0.3,
  0.4, 0.3, 0.5, 0.3, 0.4, 0.3, 0.5, 0.3, 0.4, 0.3,
  0.5, 0.3, 0.4, 0.3, 0.5, 0.3, 0.4, 0.3, 0.5, 0.4,
  0.3, 0.5, 0.3, 0.4, 0.65, 0.3, 0.4, 0.3, 0.5, 0.3,
  0.4, 0.3, 0.5, 0.3, 0.4, 0.3, 0.5, 0.3, 0.4, 0.3,
  0.5, 0.3, 0.4, 0.3, 0.5, 0.3, 0.4, 0.3, 0.5, 0.3,
  0.4, 0.3, 0.5, 0.3, 0.4,
];

const WINDOWS = [WIN_0, WIN_1, WIN_2, WIN_3, WIN_4, WIN_5];

// ---- layout -----------------------------------------------------------

const PAGE_W = 1858;
const PAGE_H = 2183;
const PLOT_LEFT = 188;
const PLOT_RIGHT = 1833;
const PANEL_TOP = 31.4;
const PANEL_H = 283.6;
const PAD = 32;
const SERIF = '"Liberation Serif", "Times New Roman", serif';

// where the panel captions sit, in data units
const TEXT_X = [22.98, 20.75, 20.8, 20.75, 20.75, 20.9, 20.9];
const TEXT_Y = [[8.08], [7.12, 4.33], [6.64, 3.88], [6.44, 3.64], [6.91, 4.15], [6.04, 3.28], [6.72, 3.94]];

const spectrumPoints = (values: number[], from: number) =>
  values.map((v, i) => ({ x: +(from + i * FREQ_STEP).toFixed(2), y: v }));

function makeDecor(index: number, last: boolean, canvasTop: number) {
  return {
    id: 'decor' + index,
    afterDraw(chart: Chart) {
      const { ctx, chartArea: a } = chart;
      const xs = chart.scales.x;
      const ys = chart.scales.y;
      ctx.save();
      ctx.strokeStyle = '#000';
      ctx.fillStyle = '#000';
      ctx.lineCap = 'butt';

      // inward ticks
      ctx.lineWidth = 3;
      ctx.beginPath();
      for (let v = 0; v <= FREQ_MAX; v++) {
        const px = xs.getPixelForValue(v);
        const len = v % 5 === 0 ? 21 : 10;
        ctx.moveTo(px, a.top);
        ctx.lineTo(px, a.top + len);
        ctx.moveTo(px, a.bottom);
        ctx.lineTo(px, a.bottom - len);
      }
      for (let v = 0; v <= AMP_MAX[index]; v++) {
        const py = ys.getPixelForValue(v);
        const len = v % 8 === 0 ? 23 : 12;
        ctx.moveTo(a.left, py);
        ctx.lineTo(a.left + len, py);
        ctx.moveTo(a.right, py);
        ctx.lineTo(a.right - len, py);
      }
      ctx.stroke();

      // frame
      ctx.lineWidth = 4;
      ctx.strokeRect(a.left, a.top, a.right - a.left, a.bottom - a.top);

      // amplitude tick labels
      ctx.font = `60px ${SERIF}`;
      ctx.textAlign = 'right';
      ctx.textBaseline = 'middle';
      AMP_TICK_LABELS.forEach((v) => ctx.fillText(String(v), a.left - 24, ys.getPixelForValue(v)));

      // caption
      ctx.font = `62px ${SERIF}`;
      ctx.textAlign = 'left';
      ctx.textBaseline = 'alphabetic';
      PANEL_TEXT[index].forEach((t, k) =>
        ctx.fillText(t, xs.getPixelForValue(TEXT_X[index]), ys.getPixelForValue(TEXT_Y[index][k]))
      );

      if (last) {
        ctx.font = `60px ${SERIF}`;
        ctx.textAlign = 'center';
        FREQ_TICK_LABELS.forEach((v) => ctx.fillText(String(v), xs.getPixelForValue(v), a.bottom + 55));
        ctx.font = `64px ${SERIF}`;
        ctx.fillText('Frequency (c/d)', 1013, 2152 - canvasTop);
      }
      ctx.restore();
    },
  };
}

function Panel({ index }: { index: number }) {
  const ref = useRef<HTMLCanvasElement>(null);
  const last = index === SPECTRA.length - 1;
  const top = PANEL_TOP + index * PANEL_H;
  const bottom = top + PANEL_H;
  const canvasTop = Math.floor(top - PAD);
  const canvasBottom = last ? PAGE_H : Math.ceil(bottom + PAD);
  const height = canvasBottom - canvasTop;

  useEffect(() => {
    if (!ref.current) return;
    const ctx = ref.current.getContext('2d');
    if (!ctx) return;

    const datasets: any[] = [];

    // blue dotted: frequencies already removed
    for (let k = 0; k < index && k < PREWHITENED_FREQ.length; k++) {
      datasets.push({
        data: [
          { x: PREWHITENED_FREQ[k], y: 0 },
          { x: PREWHITENED_FREQ[k], y: PREWHITENED_AMP[k] },
        ],
        borderColor: '#0000ff',
        borderWidth: 4.5,
        borderDash: [0.5, 10.5],
        borderCapStyle: 'round',
        pointRadius: 0,
        fill: false,
      });
    }

    // red dashed significance level
    datasets.push({
      data: [
        { x: LEVEL_FROM[index], y: LEVEL_AMP[index] },
        { x: LEVEL_TO[index], y: LEVEL_AMP[index] },
      ],
      borderColor: '#ff0000',
      borderWidth: 3.8,
      borderDash: [11, 15],
      borderCapStyle: 'round',
      pointRadius: 0,
      fill: false,
    });

    // green spectral window
    if (index < WINDOWS.length) {
      datasets.push({
        data: spectrumPoints(WINDOWS[index], WINDOW_FROM[index]),
        borderColor: '#00ff00',
        borderWidth: 3,
        borderJoinStyle: 'round',
        pointRadius: 0,
        fill: false,
      });
    }

    // black amplitude spectrum
    datasets.push({
      data: spectrumPoints(SPECTRA[index], 0),
      borderColor: '#000000',
      backgroundColor: '#000000',
      borderWidth: 6,
      borderJoinStyle: 'round',
      pointRadius: 0,
      fill: 'origin',
    });

    const chart = new Chart(ctx, {
      type: 'line',
      data: { datasets },
      options: {
        responsive: false,
        animation: false,
        events: [],
        layout: {
          padding: {
            left: PLOT_LEFT,
            right: PAGE_W - PLOT_RIGHT,
            top: top - canvasTop,
            bottom: canvasBottom - bottom,
          },
        },
        elements: { line: { tension: 0 } },
        plugins: {
          legend: { display: false },
          tooltip: { enabled: false },
        },
        scales: {
          x: { type: 'linear', min: 0, max: FREQ_MAX, display: false },
          y: { type: 'linear', min: 0, max: AMP_MAX[index], display: false },
        },
      },
      plugins: [makeDecor(index, last, canvasTop)],
    });

    return () => chart.destroy();
  }, [index]);

  return (
    <canvas
      ref={ref}
      width={PAGE_W}
      height={height}
      style={{ position: 'absolute', left: 0, top: canvasTop, width: PAGE_W, height }}
    />
  );
}

export default function App() {
  return (
    <div
      style={{
        position: 'absolute',
        left: 0,
        top: 0,
        width: PAGE_W,
        height: PAGE_H,
        background: '#fff',
        overflow: 'hidden',
      }}
    >
      {SPECTRA.map((_, i) => (
        <Panel key={i} index={i} />
      ))}
      <div
        style={{
          position: 'absolute',
          left: 63,
          top: 1019,
          transform: 'translate(-50%, -50%) rotate(-90deg)',
          font: `62px ${SERIF}`,
          whiteSpace: 'nowrap',
          color: '#000',
        }}
      >
        Amplitude (mmag)
      </div>
    </div>
  );
}
